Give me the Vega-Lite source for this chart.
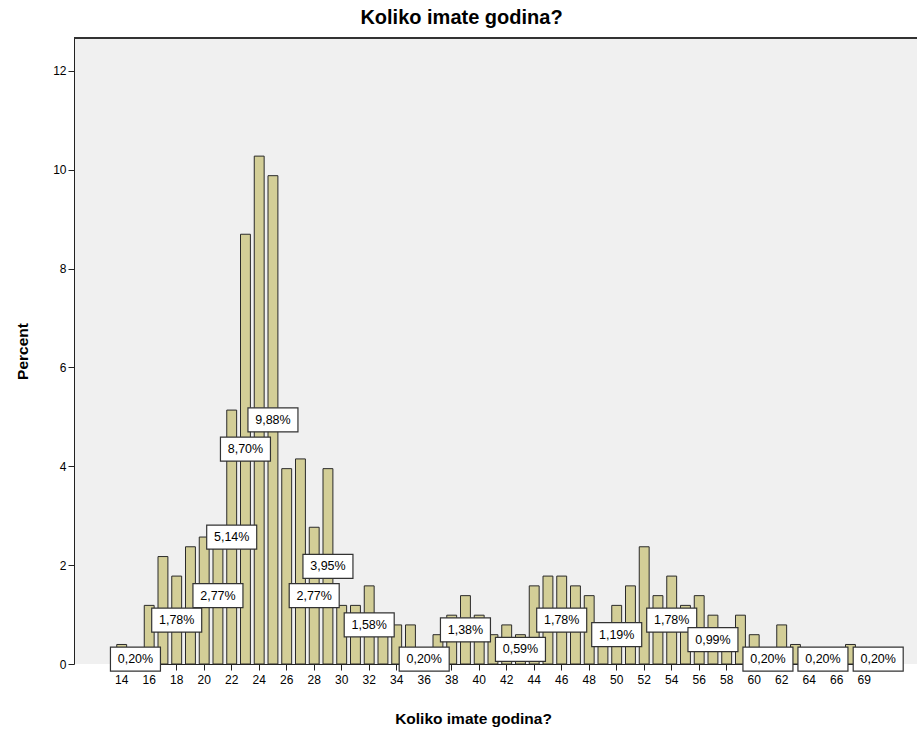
{
  "$schema": "https://vega.github.io/schema/vega-lite/v6.json",
  "autosize": {"type": "none"},
  "padding": {"left": 74, "top": 38, "right": 0, "bottom": 67},
  "width": 843,
  "height": 626,
  "background": "white",
  "config": {
    "view": {"fill": "#f0f0f0", "stroke": null},
    "font": "Liberation Sans",
    "axis": {"labelFont": "Liberation Sans", "titleFont": "Liberation Sans", "labelColor": "#000", "titleColor": "#000", "domainColor": "#222", "tickColor": "#222", "grid": false}
  },
  "title": {"text": "Koliko imate godina?", "fontSize": 20, "fontWeight": "bold", "font": "Liberation Sans", "color": "#000", "anchor": "middle", "dx": -34, "offset": 10},
  "data": {"values": [
    {"age": 14, "pct": 0.395},
    {"age": 15, "pct": 0.198, "label": "0,20%"},
    {"age": 16, "pct": 1.186},
    {"age": 17, "pct": 2.174},
    {"age": 18, "pct": 1.779, "label": "1,78%"},
    {"age": 19, "pct": 2.372},
    {"age": 20, "pct": 2.569},
    {"age": 21, "pct": 2.767, "label": "2,77%"},
    {"age": 22, "pct": 5.138, "label": "5,14%"},
    {"age": 23, "pct": 8.696, "label": "8,70%"},
    {"age": 24, "pct": 10.277},
    {"age": 25, "pct": 9.881, "label": "9,88%"},
    {"age": 26, "pct": 3.953},
    {"age": 27, "pct": 4.150},
    {"age": 28, "pct": 2.767, "label": "2,77%"},
    {"age": 29, "pct": 3.953, "label": "3,95%"},
    {"age": 30, "pct": 1.186},
    {"age": 31, "pct": 1.186},
    {"age": 32, "pct": 1.581, "label": "1,58%"},
    {"age": 33, "pct": 0.791},
    {"age": 34, "pct": 0.791},
    {"age": 35, "pct": 0.791},
    {"age": 36, "pct": 0.198, "label": "0,20%"},
    {"age": 37, "pct": 0.593},
    {"age": 38, "pct": 0.988},
    {"age": 39, "pct": 1.383, "label": "1,38%"},
    {"age": 40, "pct": 0.988},
    {"age": 41, "pct": 0.593},
    {"age": 42, "pct": 0.791},
    {"age": 43, "pct": 0.593, "label": "0,59%"},
    {"age": 44, "pct": 1.581},
    {"age": 45, "pct": 1.779},
    {"age": 46, "pct": 1.779, "label": "1,78%"},
    {"age": 47, "pct": 1.581},
    {"age": 48, "pct": 1.383},
    {"age": 49, "pct": 0.593},
    {"age": 50, "pct": 1.186, "label": "1,19%"},
    {"age": 51, "pct": 1.581},
    {"age": 52, "pct": 2.372},
    {"age": 53, "pct": 1.383},
    {"age": 54, "pct": 1.779, "label": "1,78%"},
    {"age": 55, "pct": 1.186},
    {"age": 56, "pct": 1.383},
    {"age": 57, "pct": 0.988, "label": "0,99%"},
    {"age": 58, "pct": 0.593},
    {"age": 59, "pct": 0.988},
    {"age": 60, "pct": 0.593},
    {"age": 61, "pct": 0.198, "label": "0,20%"},
    {"age": 62, "pct": 0.791},
    {"age": 63, "pct": 0.395},
    {"age": 64, "pct": 0.198},
    {"age": 65, "pct": 0.198, "label": "0,20%"},
    {"age": 66, "pct": 0.198},
    {"age": 67, "pct": 0.395},
    {"age": 69, "pct": 0.198, "label": "0,20%"}
  ]},
  "transform": [{"calculate": "datum.pct / 2", "as": "mid"}],
  "encoding": {
    "x": {
      "field": "age", "type": "ordinal",
      "scale": {"range": [42.75, 795.15], "paddingInner": 0.28, "paddingOuter": 0},
      "axis": {
        "values": [14,16,18,20,22,24,26,28,30,32,34,36,38,40,42,44,46,48,50,52,54,56,58,60,62,64,66,69],
        "labelAngle": 0, "labelFontSize": 12, "tickSize": 6, "labelPadding": 4,
        "title": "Koliko imate godina?", "titleFontSize": 15.5, "titleFontWeight": "bold",
        "titleX": 399, "titleY": 54, "titleBaseline": "middle", "titleAnchor": null
      }
    }
  },
  "layer": [
    {
      "mark": {"type": "bar", "fill": "#d3ce97", "stroke": "#2a2a2a", "strokeWidth": 1},
      "encoding": {
        "y": {
          "field": "pct", "type": "quantitative",
          "scale": {"domain": [0, 12.667], "nice": false, "zero": true},
          "axis": {
            "values": [0,2,4,6,8,10,12], "labelFontSize": 12, "tickSize": 6, "labelPadding": 2,
            "title": "Percent", "titleFontSize": 15.5, "titleFontWeight": "bold",
            "titleX": -52, "titleY": 313, "titleBaseline": "middle", "titleAnchor": null
          }
        }
      }
    },
    {
      "mark": {"type": "rule", "stroke": "#333", "strokeWidth": 1},
      "encoding": {"y": {"datum": 12.667, "type": "quantitative"}, "x": null}
    },
    {
      "transform": [{"filter": "datum.label && datum.age != 69"}],
      "mark": {"type": "point", "shape": "M-1,-0.48H1V0.48H-1Z", "size": 2500, "filled": true, "fill": "white", "stroke": "#333", "strokeWidth": 1.2, "opacity": 1},
      "encoding": {"y": {"field": "mid", "type": "quantitative"}}
    },
    {
      "transform": [{"filter": "datum.label && datum.age == 69"}],
      "mark": {"type": "point", "shape": "M-0.44,-0.48H1.56V0.48H-0.44Z", "size": 2500, "filled": true, "fill": "white", "stroke": "#333", "strokeWidth": 1.2, "opacity": 1},
      "encoding": {"y": {"field": "mid", "type": "quantitative"}}
    },
    {
      "transform": [{"filter": "datum.label && datum.age != 69"}],
      "mark": {"type": "text", "font": "Liberation Sans", "fontSize": 12.5, "color": "#000", "align": "center", "baseline": "middle"},
      "encoding": {"y": {"field": "mid", "type": "quantitative"}, "text": {"field": "label"}}
    },
    {
      "transform": [{"filter": "datum.label && datum.age == 69"}],
      "mark": {"type": "text", "font": "Liberation Sans", "fontSize": 12.5, "color": "#000", "align": "center", "baseline": "middle", "dx": 14},
      "encoding": {"y": {"field": "mid", "type": "quantitative"}, "text": {"field": "label"}}
    }
  ]
}
